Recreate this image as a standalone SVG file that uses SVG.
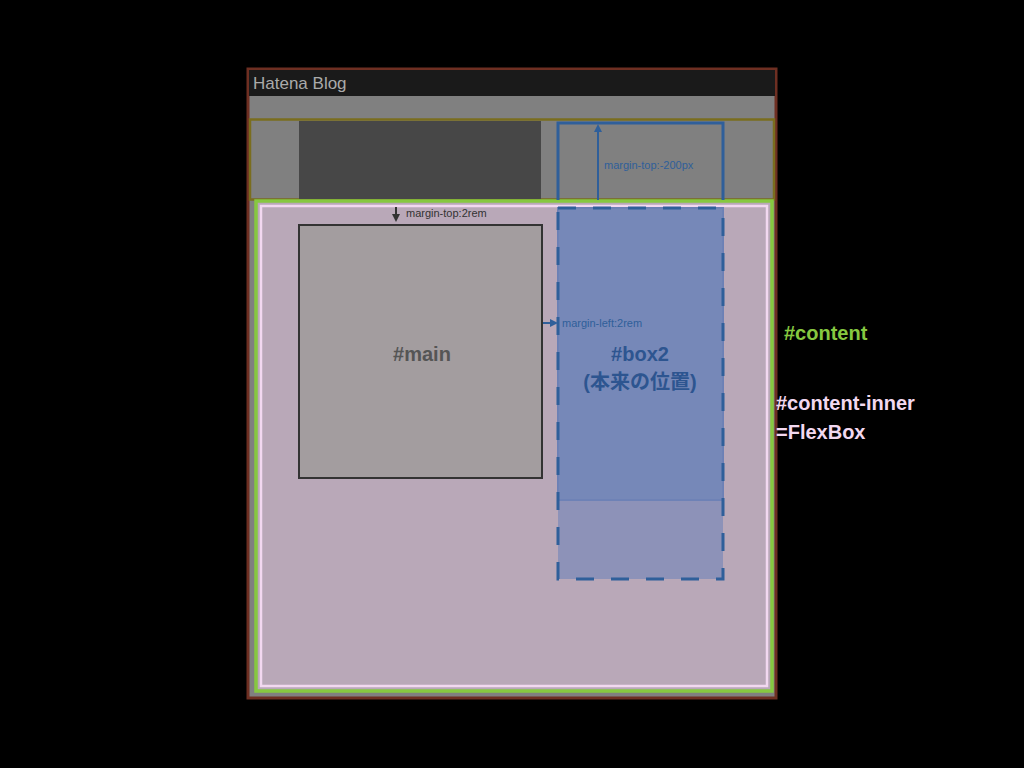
<svg xmlns="http://www.w3.org/2000/svg" width="1024" height="768" viewBox="0 0 1024 768">
<defs>
<marker id="ab" markerWidth="8" markerHeight="8" refX="4" refY="4" orient="auto" markerUnits="userSpaceOnUse"><path d="M0,0 L8,4 L0,8 z" fill="#2f5f9a"/></marker>
<marker id="ak" markerWidth="8" markerHeight="8" refX="4" refY="4" orient="auto" markerUnits="userSpaceOnUse"><path d="M0,0 L8,4 L0,8 z" fill="#333"/></marker>
<style>
text{font-family:"Liberation Sans",Arial,sans-serif}
.s{font-size:11px}
.b{font-weight:bold}
</style>
</defs>
<rect width="1024" height="768" fill="#000"/>
<g id="page">
<rect x="248" y="69" width="528" height="629" fill="#808080" stroke="#6e2f22" stroke-width="3"/>
<rect x="249" y="70" width="526" height="26" fill="#1a1a1a"/>
<text x="253" y="89" font-size="17" fill="#aaa">Hatena Blog</text>
<rect x="250" y="119.5" width="524" height="80" fill="none" stroke="#7a6d1e" stroke-width="2.5"/>
<rect x="299" y="121" width="242" height="78" fill="#474747"/>
</g>
<g id="content">
<rect x="256" y="201" width="516" height="490" fill="#b9a8b8" stroke="#86c840" stroke-width="3.5"/>
<rect x="261" y="206" width="506" height="480" fill="none" stroke="#f2d8f0" stroke-width="2.5"/>
</g>
<g id="main">
<rect x="299" y="225" width="243" height="253" fill="#a39d9f" stroke="#333" stroke-width="2"/>
<text x="422" y="361" text-anchor="middle" font-size="20" class="b" fill="#555">#main</text>
</g>
<g id="box2">
<path d="M558,200 V123 H723 V200" fill="none" stroke="#2f5f9a" stroke-width="3"/>
<rect x="558" y="208" width="165" height="292" fill="#7f8fb8" stroke="#6c80b5" stroke-width="2"/>
<rect x="558" y="208" width="165" height="371" fill="#7084b8" fill-opacity="0.6" stroke="#2f5f9a" stroke-width="3" stroke-dasharray="18,17"/>
<text x="640" y="361" text-anchor="middle" font-size="20" class="b" fill="#2d5590">#box2</text>
<text x="640" y="389" text-anchor="middle" font-size="20" class="b" fill="#2d5590" style="font-family:'Liberation Sans','Noto Sans CJK JP',sans-serif">(本来の位置)</text>
</g>
<g id="connectors">
<line x1="598" y1="200" x2="598" y2="128" stroke="#2f5f9a" stroke-width="2" marker-end="url(#ab)"/>
<line x1="396" y1="207" x2="396" y2="218" stroke="#333" stroke-width="2" marker-end="url(#ak)"/>
<line x1="543" y1="323" x2="554" y2="323" stroke="#2f5f9a" stroke-width="2" marker-end="url(#ab)"/>
</g>
<g id="labels">
<text x="604" y="169" class="s" fill="#2f5f9a">margin-top:-200px</text>
<text x="406" y="217" class="s" fill="#333">margin-top:2rem</text>
<text x="562" y="327" class="s" fill="#2f5f9a">margin-left:2rem</text>
<text x="784" y="340" font-size="20" class="b" fill="#86c840">#content</text>
<text x="776" y="410" font-size="20" class="b" fill="#f2d8f0">#content-inner</text>
<text x="776" y="439" font-size="20" class="b" fill="#f2d8f0">=FlexBox</text>
</g>
</svg>
